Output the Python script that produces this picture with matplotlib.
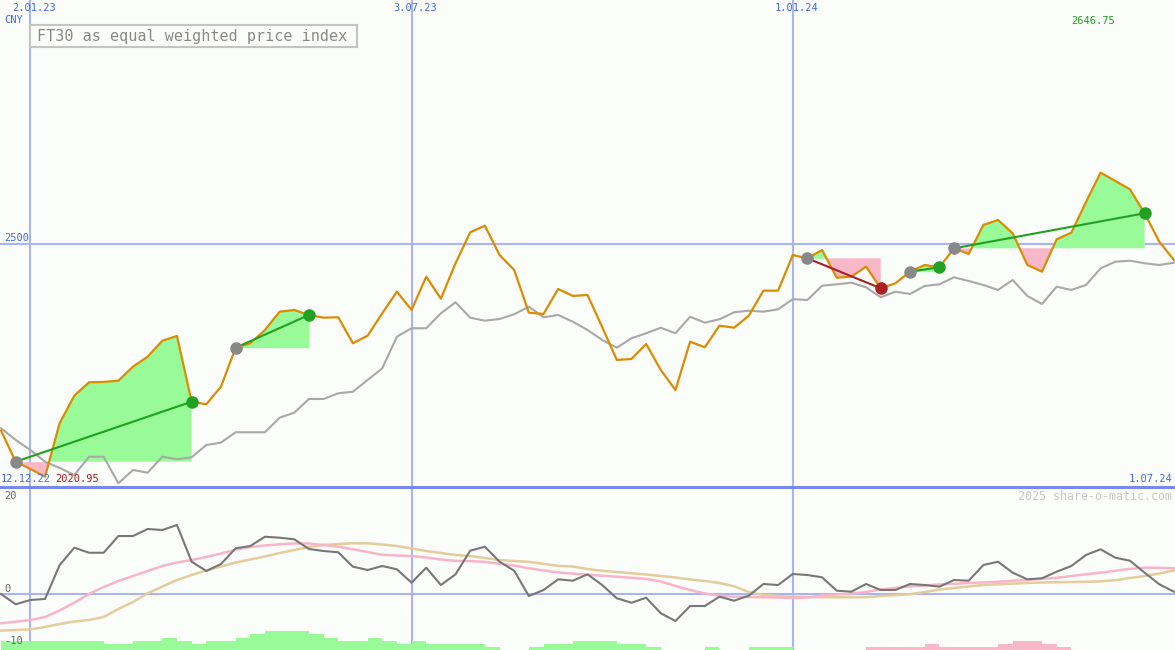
import pandas as pd
import matplotlib
matplotlib.use("Agg")
import matplotlib.pyplot as plt
from matplotlib.patches import Rectangle

# FT30 as equal weighted price index, weekly, from 19.12.22
start = "2022-12-19"

price = [2115.6, 2051.8, 2036.8, 2020.95, 2131.5, 2187.7, 2215.3, 2216.0, 2218.6, 2247.4,
         2268.0, 2300.9, 2310.6, 2175.3, 2170.0, 2206.2, 2286.5, 2295.6, 2323.0, 2360.6,
         2364.1, 2353.8, 2348.3, 2349.1, 2295.6, 2311.2, 2357.3, 2401.8, 2364.1, 2432.7,
         2387.4, 2460.3, 2524.1, 2537.7, 2477.3, 2446.5, 2358.6, 2355.9, 2407.4, 2393.0,
         2395.0, 2329.1, 2261.2, 2263.3, 2294.1, 2240.6, 2199.4, 2298.9, 2287.3, 2331.8,
         2327.7, 2352.4, 2403.9, 2403.9, 2477.3, 2470.5, 2487.6, 2430.6, 2432.7, 2453.3,
         2408.8, 2419.1, 2443.0, 2456.8, 2452.0, 2491.1, 2479.4, 2539.1, 2549.4, 2522.0,
         2456.8, 2443.0, 2509.6, 2523.3, 2586.4, 2646.75, 2629.7, 2612.6, 2563.2, 2504.7,
         2467.1]

avg = [2120.6, 2096.5, 2075.9, 2051.8, 2038.9, 2024.4, 2062.1, 2062.1, 2007.4, 2034.7,
       2029.2, 2062.1, 2056.8, 2060.9, 2086.2, 2091.0, 2112.4, 2112.4, 2112.4, 2142.4,
       2152.7, 2180.9, 2180.9, 2192.6, 2195.9, 2220.0, 2244.1, 2309.2, 2326.5, 2326.5,
       2357.3, 2380.0, 2348.3, 2342.1, 2345.6, 2355.3, 2370.9, 2349.1, 2353.8, 2340.0,
       2323.0, 2302.4, 2286.5, 2305.9, 2316.2, 2327.7, 2316.2, 2350.3, 2338.0, 2345.0,
       2359.4, 2362.7, 2360.6, 2365.6, 2386.4, 2384.7, 2414.1, 2417.0, 2420.3, 2410.8,
       2390.3, 2401.8, 2397.1, 2413.5, 2417.0, 2431.4, 2423.8, 2415.6, 2405.3, 2425.9,
       2393.0, 2376.5, 2412.1, 2405.3, 2415.6, 2450.0, 2463.5, 2465.6, 2460.3, 2456.8,
       2461.5]

mom = [0.06, -2.14, -1.22, -1.0, 6.27, 9.98, 8.9, 8.9, 12.48, 12.48,
       13.98, 13.77, 14.84, 6.98, 4.99, 6.49, 9.85, 10.34, 12.33, 12.12,
       11.78, 9.7, 9.27, 8.99, 5.91, 5.2, 6.06, 5.35, 2.48, 5.7,
       1.99, 4.28, 9.34, 10.19, 6.98, 5.05, -0.36, 0.92, 3.21, 2.91,
       4.28, 1.99, -0.86, -1.8, -0.73, -4.07, -5.72, -2.51, -2.51, -0.51,
       -1.37, -0.3, 2.21, 1.99, 4.35, 4.13, 3.64, 0.77, 0.56, 2.21,
       0.92, 0.92, 2.21, 1.99, 1.63, 3.06, 2.91, 6.27, 6.98, 4.63,
       3.21, 3.43, 4.84, 6.06, 8.42, 9.64, 7.84, 7.19, 4.63, 2.14,
       0.56]

mom_fast = [-6.19, -5.87, -5.5, -4.86, -3.47, -1.78, 0.06, 1.56, 2.85, 3.92,
            4.99, 6.06, 6.81, 7.34, 7.99, 8.74, 9.55, 10.13, 10.45, 10.71,
            10.88, 10.88, 10.56, 10.19, 9.64, 9.06, 8.46, 8.31, 8.2, 7.88,
            7.45, 7.17, 7.09, 6.96, 6.53, 6.15, 5.57, 5.1, 4.67, 4.43,
            4.2, 3.98, 3.77, 3.53, 3.28, 2.74, 1.78, 0.92, 0.17, -0.32,
            -0.51, -0.58, -0.64, -0.71, -0.79, -0.69, -0.26, -0.04, 0.17, 0.49,
            1.07, 1.35, 1.71, 1.88, 2.12, 2.23, 2.42, 2.55, 2.68, 2.89,
            3.1, 3.3, 3.53, 3.92, 4.28, 4.63, 5.03, 5.46, 5.7, 5.67,
            5.57]

mom_slow = [-7.79, -7.64, -7.52, -7.0, -6.36, -5.82, -5.5, -4.86, -3.15, -1.65,
            0.21, 1.67, 3.06, 4.13, 5.1, 5.95, 6.81, 7.45, 8.09, 8.84,
            9.49, 10.13, 10.56, 10.77, 10.92, 10.92, 10.66, 10.34, 9.81, 9.27,
            8.84, 8.42, 8.2, 7.77, 7.34, 7.13, 6.96, 6.53, 6.1, 5.95,
            5.42, 5.03, 4.78, 4.5, 4.24, 3.92, 3.6, 3.17, 2.85, 2.42,
            1.71, 0.49, -0.15, -0.36, -0.51, -0.58, -0.64, -0.64, -0.64, -0.62,
            -0.36, -0.19, 0.02, 0.49, 1.03, 1.35, 1.67, 1.99, 2.14, 2.29,
            2.42, 2.53, 2.59, 2.63, 2.68, 2.76, 3.02, 3.49, 3.92, 4.45,
            5.1]

# strength bars at the bottom, + green / - pink
bars = [3, 3, 3, 3, 3, 3, 3, 2, 2, 3,
        3, 4, 3, 2, 3, 3, 4, 5, 6, 6,
        6, 5, 4, 3, 3, 4, 3, 2, 3, 2,
        2, 2, 2, 1, 0, 0, 1, 2, 2, 3,
        3, 3, 2, 2, 1, 0, 0, 0, 1, 0,
        0, 1, 1, 1, 0, 0, 0, 0, 0, -1,
        -1, -1, -1, -2, -1, -1, -1, -1, -2, -3,
        -3, -2, -1, 0, 0, 0, 0, 0, 0, 0,
        0]

# trades: week index of entry / exit
entries = [1, 16, 55, 62, 65]
exits = [13, 21, 60, 64, 78]

date_lines = ["2023-01-02", "2023-07-03", "2024-01-01"]
date_labels = ["2.01.23", "3.07.23", "1.01.24"]

bg = "#fbfdfb"
blue = "#4466ee"
gridc = "#a8b4f4"
mono = "DejaVu Sans Mono"

dates = pd.date_range(start, periods=len(price), freq="7D")
x0 = dates[0] - pd.Timedelta(hours=12)
x1 = x0 + pd.Timedelta(days=561)

fig = plt.figure(figsize=(11.75, 6.5), dpi=100, facecolor=bg)
ax = fig.add_axes([0, 163 / 650, 1, 487 / 650])
axl = fig.add_axes([0, 0, 1, 163 / 650])
for a in (ax, axl):
    a.set_facecolor(bg)
    a.set_xlim(x0, x1)
    a.set_xticks([])
    a.set_yticks([])
    for s in a.spines.values():
        s.set_visible(False)
    for d in date_lines:
        a.axvline(pd.Timestamp(d), color=gridc, lw=1.5, zorder=1)

ax.set_ylim(1999.7, 3002.3)
axl.set_ylim(-11.93, 22.98)

# main panel
ax.axhline(2500, color=gridc, lw=1.5, zorder=1)
for a_i, e_i in zip(entries, exits):
    xs = dates[a_i:e_i + 1]
    ps = price[a_i:e_i + 1]
    base = price[a_i]
    ax.fill_between(xs, ps, base, where=[p >= base for p in ps], interpolate=True,
                    color="#98fb98", lw=0, zorder=2)
    ax.fill_between(xs, ps, base, where=[p <= base for p in ps], interpolate=True,
                    color="#f9b8c8", lw=0, zorder=2)

ax.plot(dates, avg, color="#a8a8a8", lw=1.5, zorder=3)
ax.plot(dates, price, color="#dc8c00", lw=1.6, zorder=4)

for a_i, e_i in zip(entries, exits):
    win = price[e_i] >= price[a_i]
    c = "#22a022" if win else "#aa2020"
    ax.plot([dates[a_i], dates[e_i]], [price[a_i], price[e_i]], color=c, lw=1.5, zorder=5)
    ax.plot(dates[a_i], price[a_i], "o", color="#888888", ms=9, mew=0, zorder=6)
    ax.plot(dates[e_i], price[e_i], "o", color=c, ms=9, mew=0, zorder=6)

# lower panel
axl.axhline(0, color=gridc, lw=1.5, zorder=1)
axl.plot(dates, mom_slow, color="#e4cc9c", lw=1.8, zorder=3)
axl.plot(dates, mom_fast, color="#fab4c8", lw=1.8, zorder=3)
axl.plot(dates, mom, color="#777777", lw=1.5, zorder=4)

axb = axl.twinx()
axb.set_ylim(0, 52.5)
axb.set_yticks([])
for s in axb.spines.values():
    s.set_visible(False)
axb.bar(dates, [abs(b) for b in bars], width=7, align="edge", lw=0,
        color=["#98fb98" if b > 0 else "#f9b8c8" for b in bars])

# divider between panels
fig.add_artist(plt.Line2D([0, 1], [163 / 650, 163 / 650], color="#7888ee", lw=2.2))


def px(x, y):
    return x / 1175, 1 - y / 650


for d, lab in zip(date_lines, date_labels):
    fx = (pd.Timestamp(d) - x0) / (x1 - x0)
    fig.text(fx + 4 / 1175, 1 - 8 / 650, lab, color=blue, family=mono, size=7.5,
             ha="center", va="center")

fig.text(*px(4, 20), "CNY", color=blue, family=mono, size=7.5, va="center")
fig.text(*px(4, 238), "2500", color=blue, family=mono, size=7.5, va="center")
fig.add_artist(Rectangle(px(30, 47), 327 / 1175, 22 / 650, transform=fig.transFigure,
                         fc=bg, ec="#c4c4c4", lw=1.5, zorder=10))
fig.text(*px(37, 36), "FT30 as equal weighted price index", color="#888888", family=mono,
         size=10.9, va="center", zorder=11)
fig.text(*px(1093, 21), f"{max(price):.2f}", color="#22a022", family=mono, size=7.5,
         ha="center", va="center")
fig.text(*px(1, 479), "12.12.22", color=blue, family=mono, size=7.5, va="center")
fig.text(*px(55, 479), f"{min(price):.2f}", color="#aa1818", family=mono, size=7.5,
         va="center")
fig.text(*px(1172, 479), "1.07.24", color=blue, family=mono, size=7.5, ha="right",
         va="center")
fig.text(*px(1172, 496), "2025 share-o-matic.com", color="#c8c8c8", family=mono,
         size=8.4, ha="right", va="center")
fig.text(*px(4, 496), "20", color="#666666", family=mono, size=7.5, va="center")
fig.text(*px(4, 589), "0", color="#666666", family=mono, size=7.5, va="center")
fig.text(*px(4, 641), "-10", color="#666666", family=mono, size=7.5, va="center")

fig.savefig("out.png", dpi=100, facecolor=bg)
